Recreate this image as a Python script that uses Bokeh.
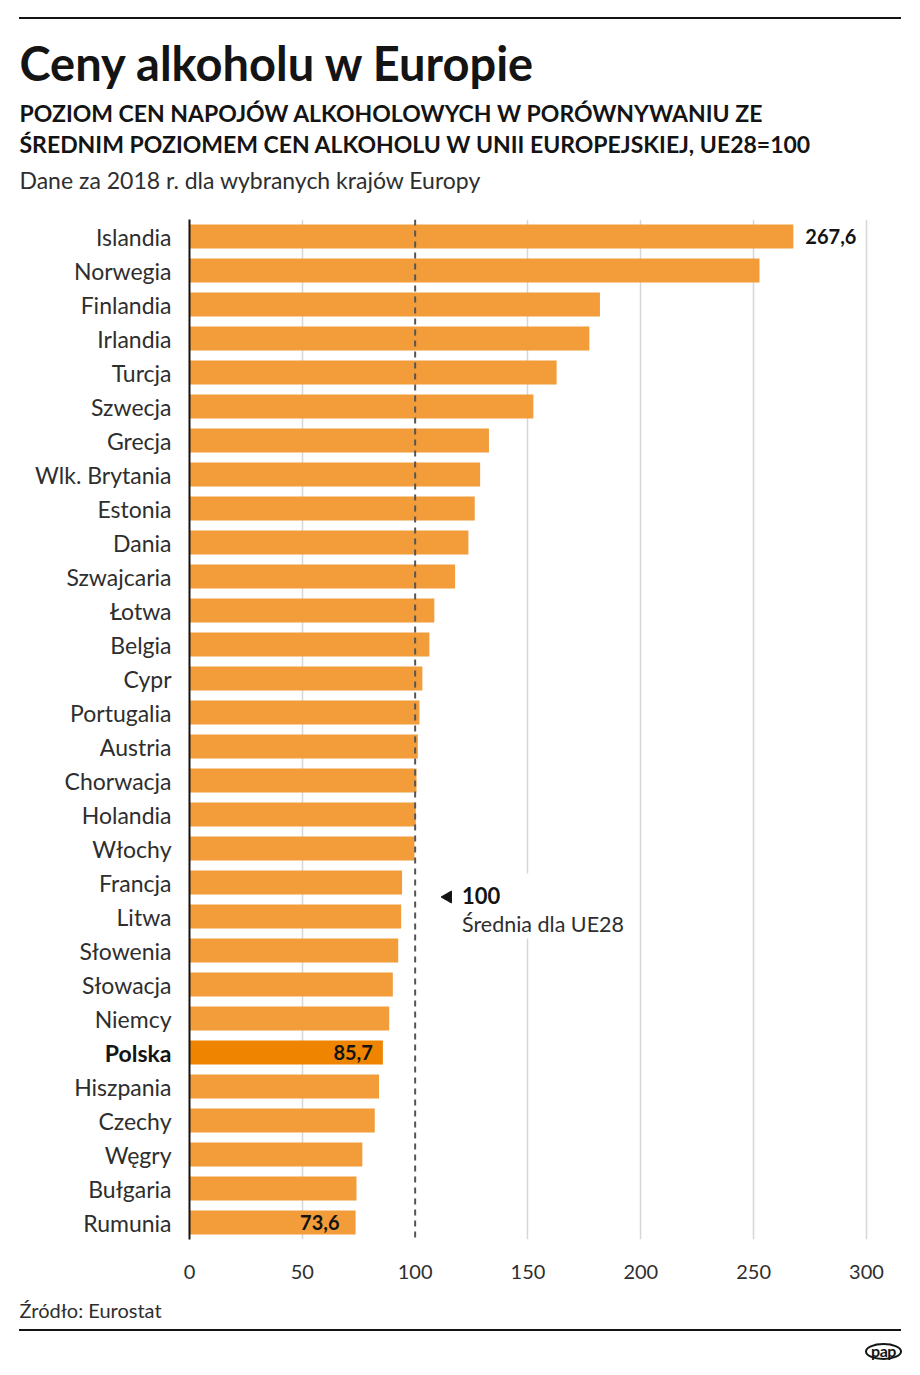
import json
from math import pi
from bokeh.plotting import figure
from bokeh.models import (FactorRange, Range1d, FixedTicker, Span, Label, ColumnDataSource,
                          Div, CustomJSTickFormatter)
from bokeh.transform import dodge
from bokeh.layouts import column
from bokeh.embed import file_html
from bokeh.resources import INLINE
from bokeh.core.properties import value

# ---------------- data ----------------
countries = ["Islandia", "Norwegia", "Finlandia", "Irlandia", "Turcja", "Szwecja",
             "Grecja", "Wlk. Brytania", "Estonia", "Dania", "Szwajcaria", "Łotwa",
             "Belgia", "Cypr", "Portugalia", "Austria", "Chorwacja", "Holandia",
             "Włochy", "Francja", "Litwa", "Słowenia", "Słowacja", "Niemcy",
             "Polska", "Hiszpania", "Czechy", "Węgry", "Bułgaria", "Rumunia"]
values = [267.6, 252.6, 181.9, 177.2, 162.7, 152.4,
          132.7, 128.8, 126.4, 123.6, 117.7, 108.5,
          106.3, 103.2, 101.9, 101.2, 100.6, 100.3,
          99.7, 94.2, 93.8, 92.5, 90.1, 88.5,
          85.7, 84.0, 82.1, 76.6, 74.0, 73.6]
x_ticks = [0, 50, 100, 150, 200, 250, 300]
highlight = "Polska"
labelled_outside = ["Islandia"]
labelled_inside = ["Polska", "Rumunia"]
eu_average = 100
eu_label_value = "100"
eu_label_text = "Średnia dla UE28"

title = "Ceny alkoholu w Europie"
subtitle = ["POZIOM CEN NAPOJÓW ALKOHOLOWYCH W PORÓWNYWANIU ZE",
            "ŚREDNIM POZIOMEM CEN ALKOHOLU W UNII EUROPEJSKIEJ, UE28=100"]
note = "Dane za 2018 r. dla wybranych krajów Europy"
source_text = "Źródło: Eurostat"
logo_text = "pap"

# ---------------- style / layout ----------------
FONT = "Lato"
BAR = "#F29C3A"
BAR_HI = "#EE8400"
INK = "#141414"
GREY_TXT = "#2e2e2e"
GRID = "#d6d6d6"
W = 920
TOP_H = 25          # top rule strip
FOOT_H = 49         # bottom rule + logo strip
H = 1375 - TOP_H - FOOT_H
BORDER_L, BORDER_R, BORDER_T = 189, 50, 194
N = len(countries)
CAT_PX = 34
BORDER_B = H - BORDER_T - N * CAT_PX
FRAME_W = W - BORDER_L - BORDER_R
X_MAX = 301.8
FRAME_TOP_PAGE = TOP_H + BORDER_T


def dx(px):
    """page pixel x -> data x"""
    return (px - BORDER_L) * X_MAX / FRAME_W


def dy(py):
    """page pixel y -> synthetic categorical y"""
    return N + (FRAME_TOP_PAGE - py) / CAT_PX


def fmt(v):
    return f"{v:.1f}".replace(".", ",")


p = figure(width=W, height=H,
           y_range=FactorRange(factors=list(reversed(countries))),
           x_range=Range1d(0, X_MAX),
           output_backend="svg", toolbar_location=None,
           min_border_left=BORDER_L, min_border_right=BORDER_R,
           min_border_top=BORDER_T, min_border_bottom=BORDER_B)
p.outline_line_color = None

# ---------------- bars ----------------
colors = [BAR_HI if c == highlight else BAR for c in countries]
src = ColumnDataSource(dict(country=countries, value=values, color=colors))
p.hbar(y="country", left=0, right="value", height=0.7, fill_color="color",
       line_color=None, source=src)

# ---------------- axes / grid ----------------
p.xaxis.ticker = FixedTicker(ticks=x_ticks)
p.xaxis.axis_line_color = None
p.xaxis.major_tick_line_color = None
p.xaxis.minor_tick_line_color = None
p.xaxis.major_tick_in = 0
p.xaxis.major_tick_out = 0
p.xaxis.major_label_standoff = 25
p.xaxis.major_label_text_font = FONT
p.xaxis.major_label_text_font_size = "20px"
p.xaxis.major_label_text_color = GREY_TXT

p.yaxis.axis_line_color = INK
p.yaxis.axis_line_width = 2
p.yaxis.major_tick_line_color = None
p.yaxis.major_tick_in = 0
p.yaxis.major_tick_out = 0
p.yaxis.major_label_standoff = 18
p.yaxis.major_label_text_font = FONT
p.yaxis.major_label_text_font_size = "23px"
p.yaxis.major_label_text_color = GREY_TXT
p.yaxis.formatter = CustomJSTickFormatter(
    code="return tick === %s ? '' : tick;" % json.dumps(highlight))

p.xgrid.ticker = FixedTicker(ticks=[t for t in x_ticks if t not in (0, eu_average)])
p.xgrid.grid_line_color = GRID
p.xgrid.grid_line_width = 1.5
p.ygrid.grid_line_color = None

p.add_layout(Span(location=eu_average, dimension="height", line_color="#555555",
                  line_width=2, line_dash="6 5"))

# ---------------- EU average annotation ----------------
ann = ColumnDataSource(dict(y=["Francja"], v=[eu_label_value], t=[eu_label_text]))
p.rect(x=dx(535), y=dodge("y", -23.5 / CAT_PX, range=p.y_range), width=dx(630) - dx(440),
       height=65, height_units="screen", fill_color="white", line_color=None, source=ann)
p.scatter(x=dx(447.5), y=dodge("y", -14.5 / CAT_PX, range=p.y_range), marker="triangle",
          size=12, angle=pi / 2, color=INK, source=ann)
p.text(x=dx(461.5), y="y", y_offset=13, text="v", text_font=value(FONT),
       text_font_size="22px", text_font_style="bold", text_baseline="alphabetic",
       text_color=INK, source=ann)
p.text(x=dx(461.5), y="y", y_offset=41, text="t", text_font=value(FONT),
       text_font_size="21.5px", text_baseline="alphabetic", text_color=GREY_TXT,
       source=ann)

# ---------------- value labels ----------------
out_src = ColumnDataSource(dict(
    y=labelled_outside,
    x=[values[countries.index(c)] for c in labelled_outside],
    t=[fmt(values[countries.index(c)]) for c in labelled_outside]))
p.text(x="x", y="y", text="t", x_offset=12, text_align="left", text_baseline="middle",
       text_font=value(FONT), text_font_size="20px", text_font_style="bold",
       text_color=INK, source=out_src)
in_src = ColumnDataSource(dict(
    y=labelled_inside,
    x=[values[countries.index(c)] for c in labelled_inside],
    t=[fmt(values[countries.index(c)]) for c in labelled_inside],
    off=[-10, -16]))
p.text(x="x", y="y", text="t", x_offset="off", text_align="right", text_baseline="middle",
       text_font=value(FONT), text_font_size="20px", text_font_style="bold",
       text_color=INK, source=in_src)


def side_label(where, **kw):
    kw.setdefault("text_font", FONT)
    kw.setdefault("text_color", INK)
    p.add_layout(Label(**kw), where)


# bold category label for the highlighted country (side panel -> not clipped)
side_label("above", x=0, y=list(reversed(countries)).index(highlight) + 0.5,
           x_offset=-18, text=highlight, text_align="right", text_baseline="middle",
           text_font_size="23px", text_font_style="bold", background_fill_color="white")

# ---------------- header texts ----------------
side_label("above", x=dx(19), y=dy(62), text=title, text_font_size="47px",
           text_font_style="bold", text_baseline="alphabetic")
for line, base in zip(subtitle, [112.5, 143]):
    side_label("above", x=dx(19), y=dy(base), text=line, text_font_size="23px",
               text_font_style="bold", text_baseline="alphabetic")
side_label("above", x=dx(19), y=dy(179), text=note, text_font_size="23px",
           text_baseline="alphabetic", text_color=GREY_TXT)

# ---------------- footer text ----------------
side_label("below", x=dx(19), y=dy(1309), text=source_text, text_font_size="20px",
           text_baseline="alphabetic", text_color=GREY_TXT)

# ---------------- rules and logo strips ----------------
top_div = Div(width=W, height=TOP_H, margin=0, text=(
    '<div style="height:17px"></div>'
    '<div style="margin-left:19px;width:882px;height:2px;background:%s"></div>' % INK))
foot_div = Div(width=W, height=FOOT_H, margin=0, text=(
    '<div style="height:3px"></div>'
    '<div style="margin-left:19px;width:882px;height:2px;background:%s"></div>'
    '<div style="display:block;box-sizing:border-box;margin:12px 0 0 865px;width:37px;'
    'height:17px;border:2px solid %s;border-radius:50%%;font-family:Lato;'
    'font-weight:bold;font-size:16px;line-height:12px;text-align:center;'
    'letter-spacing:-0.5px;color:%s">%s</div>' % (INK, INK, INK, logo_text)))

layout = column(top_div, p, foot_div, spacing=0)
open("out.html", "w").write(file_html(layout, INLINE))
